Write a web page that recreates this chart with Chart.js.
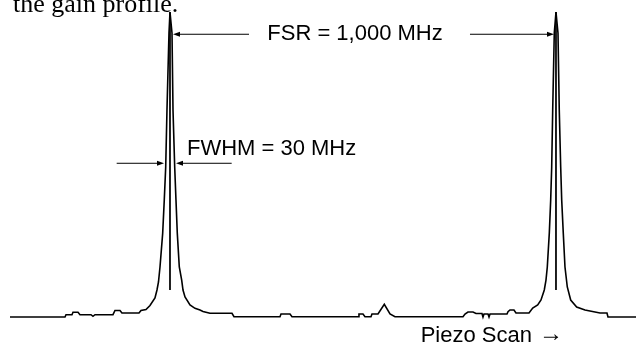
<!DOCTYPE html>
<html>
<head>
<meta charset="utf-8">
<script src="https://cdn.jsdelivr.net/npm/chart.js@4/dist/chart.umd.min.js"></script>
<style>
  html, body { margin: 0; padding: 0; background: #fff; }
  #wrap { position: relative; width: 636px; height: 347px; }
</style>
</head>
<body>
<div id="wrap"><canvas id="mainChart"></canvas></div>
<script>
// Piezo scan position, expressed in MHz (peak 1 at 0, peak 2 one FSR later)
const scanMHz = [
  -414.5, -272.0, -269.4, -253.9, -251.3, -238.3, -233.2, -204.7, -199.5, -194.3,
  -147.7, -142.5, -129.5, -124.4, -80.3, -75.1, -62.2, -51.8, -38.9, -33.7,
  -29.8, -25.9, -18.9, -14.8, -11.1, -7.8, -2.6, 0, 5.2, 7.8,
  12.2, 15.5, 18.9, 24.1, 30.3, 33.7, 38.9, 51.8, 64.8, 77.7,
  85.5, 103.6, 160.6, 165.8, 285.0, 287.6, 310.9, 316.1, 487.1, 489.6,
  500.0, 505.2, 520.7, 523.3, 538.9, 555.2, 570.0, 582.9, 759.1, 764.3,
  772.0, 785.0, 792.8, 808.3, 810.9, 813.5, 823.9, 826.5, 829.1, 873.1,
  875.7, 880.8, 891.2, 896.4, 930.1, 939.7, 952.6, 961.2, 969.7, 974.1,
  977.5, 982.7, 986.3, 988.9, 991.5, 995.6, 1000, 1005.2, 1008.5, 1012.2,
  1014.8, 1018.9, 1023.3, 1029.3, 1038.1, 1053.6, 1075.1, 1114.0, 1132.1, 1134.7,
  1207.3
];
// Transmitted intensity (normalised to peak = 1)
const signal = [
  0, 0, 0.0075, 0.0075, 0.0154, 0.0154, 0.0075, 0.0075, 0.0023, 0.0075,
  0.0075, 0.0213, 0.0213, 0.0131, 0.0131, 0.0213, 0.0246, 0.0377, 0.0623, 0.0885,
  0.1148, 0.164, 0.275, 0.384, 0.492, 0.679, 0.931, 1.0, 0.931, 0.679,
  0.492, 0.384, 0.275, 0.164, 0.121, 0.0885, 0.0656, 0.0393, 0.0285, 0.023,
  0.018, 0.0121, 0.0121, 0.001, 0.001, 0.0098, 0.0098, 0.001, 0.001, 0.0098,
  0.0098, 0.001, 0.001, 0.0098, 0.0098, 0.0416, 0.0098, 0.001, 0.001, 0.0098,
  0.0164, 0.0164, 0.0115, 0.0115, 0, 0.0098, 0.0098, 0, 0.0098, 0.0098,
  0.0174, 0.023, 0.023, 0.0131, 0.0131, 0.0295, 0.0393, 0.0557, 0.0885, 0.121,
  0.164, 0.275, 0.384, 0.492, 0.679, 0.931, 1.0, 0.931, 0.679, 0.492,
  0.384, 0.275, 0.164, 0.0984, 0.0557, 0.0328, 0.023, 0.0131, 0.0131, 0,
  0
];
// Centre markers drawn through each peak
const peakCentres = [0, 1000];
const markerTop = 1.0;
const markerBottom = 0.0885;

// Annotation labels
const fsrLabel = 'FSR = 1,000 MHz';
const fwhmLabel = 'FWHM = 30 MHz';
const axisLabel = 'Piezo Scan';
const axisArrow = '\u2192';
const captionTail = 'the gain profile.';

const xMin = -440.4, xMax = 1207.3;
const yMin = -0.0984, yMax = 1.0393;

function arrow(ctx, x1, y, x2) {
    // line from x1 to x2, filled head at x2
    const dir = x2 > x1 ? 1 : -1;
    ctx.beginPath();
    ctx.moveTo(x1, y);
    ctx.lineTo(x2 - dir * 5, y);
    ctx.stroke();
    ctx.beginPath();
    ctx.moveTo(x2, y);
    ctx.lineTo(x2 - dir * 7, y - 2.5);
    ctx.lineTo(x2 - dir * 7, y + 2.5);
    ctx.closePath();
    ctx.fill();
}

const notes = {
    id: 'notes',
    afterDraw(chart) {
        const ctx = chart.ctx;
        const xs = chart.scales.x, ys = chart.scales.y;
        const X = v => xs.getPixelForValue(v);
        const Y = v => ys.getPixelForValue(v);
        ctx.save();
        ctx.strokeStyle = '#000';
        ctx.fillStyle = '#000';
        ctx.lineWidth = 1;

        // FSR arrows
        const fy = Y(0.927);
        arrow(ctx, X(204.7), fy, X(7.8));
        arrow(ctx, X(777.2), fy, X(994.8));
        ctx.font = '22px "Liberation Sans", Arial, sans-serif';
        ctx.textAlign = 'center';
        ctx.textBaseline = 'middle';
        ctx.fillText(fsrLabel, X(479.3), Y(0.929));

        // FWHM arrows
        const wy = Y(0.504);
        arrow(ctx, X(-138.1), wy, X(-15.5));
        arrow(ctx, X(159.8), wy, X(15.5));
        ctx.textAlign = 'left';
        ctx.fillText(fwhmLabel, X(44), Y(0.551));

        // axis note: words, then a long thin arrow glyph
        ctx.textAlign = 'right';
        ctx.font = '24px "Liberation Serif", "Times New Roman", serif';
        const aw = ctx.measureText(axisArrow).width;
        ctx.fillText(axisArrow, X(1018.1), Y(-0.058));
        ctx.font = '22px "Liberation Sans", Arial, sans-serif';
        ctx.fillText(axisLabel, X(1018.1) - aw - 7, Y(-0.062));

        // cut-off caption from the surrounding text
        ctx.font = '26px "Liberation Serif", "Times New Roman", serif';
        ctx.textAlign = 'left';
        ctx.textBaseline = 'alphabetic';
        ctx.fillText(captionTail, 13, 12);
        ctx.restore();
    }
};

const trace = scanMHz.map((f, i) => ({ x: f, y: signal[i] }));
const markerSets = peakCentres.map(c => ({
    data: [{ x: c, y: markerTop }, { x: c, y: markerBottom }],
    borderColor: '#000', borderWidth: 1, pointRadius: 0, tension: 0
}));

new Chart(document.getElementById('mainChart').getContext('2d'), {
    type: 'line',
    data: {
        datasets: [
            { data: trace, borderColor: '#000', borderWidth: 1.6, pointRadius: 0, tension: 0, fill: false },
            ...markerSets
        ]
    },
    options: {
        responsive: true, maintainAspectRatio: false, animation: false,
        layout: { padding: 0 },
        plugins: { legend: { display: false }, tooltip: { enabled: false } },
        scales: {
            x: { type: 'linear', display: false, min: xMin, max: xMax },
            y: { type: 'linear', display: false, min: yMin, max: yMax }
        }
    },
    plugins: [notes]
});
</script>
</body>
</html>
